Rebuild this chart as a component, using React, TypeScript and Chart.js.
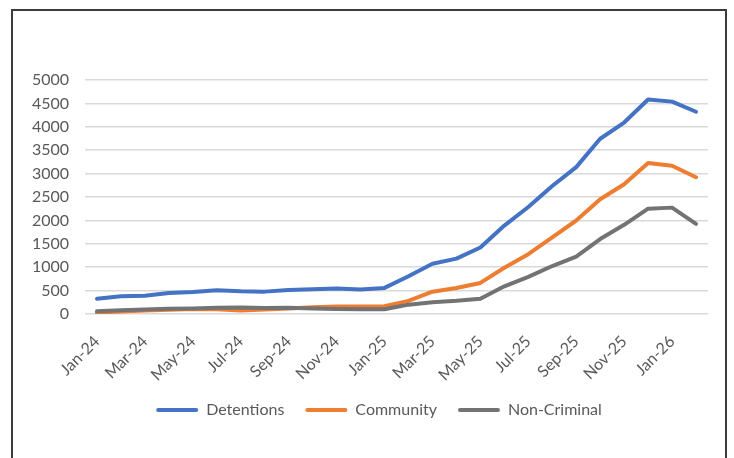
import React, { useEffect, useRef } from "react";
import { Chart, registerables } from "chart.js";

Chart.register(...registerables);

// Monthly categories, Jan-24 through Feb-26
const months: string[] = [
  "Jan-24", "Feb-24", "Mar-24", "Apr-24", "May-24", "Jun-24",
  "Jul-24", "Aug-24", "Sep-24", "Oct-24", "Nov-24", "Dec-24",
  "Jan-25", "Feb-25", "Mar-25", "Apr-25", "May-25", "Jun-25",
  "Jul-25", "Aug-25", "Sep-25", "Oct-25", "Nov-25", "Dec-25",
  "Jan-26", "Feb-26",
];

const detentions: number[] = [
  326, 377, 391, 450, 471, 507, 486, 478, 515, 529, 544, 522,
  558, 808, 1075, 1183, 1421, 1890, 2287, 2734, 3138, 3745, 4091, 4582,
  4538, 4322,
];

const community: number[] = [
  30, 55, 75, 90, 105, 100, 75, 95, 120, 145, 160, 160,
  165, 280, 476, 556, 664, 988, 1277, 1638, 1998, 2453, 2771, 3225,
  3167, 2922,
];

const nonCriminal: number[] = [
  58, 80, 95, 110, 120, 135, 140, 130, 135, 120, 105, 100,
  100, 200, 253, 281, 325, 592, 794, 1025, 1227, 1602, 1905, 2251,
  2273, 1926,
];

const yMax = 5000;
const yStep = 500;

const BLUE = "#4472C4";
const ORANGE = "#ED7D31";
const GREY = "#737373";
const TEXT = "#595959";
const FONT = "Lato, 'Open Sans', sans-serif";

// nudges the bottom legend a little to the right of the canvas centre
const legendShift = {
  id: "legendShift",
  afterLayout(chart: any) {
    const lg = chart.legend;
    if (lg) {
      lg.left += 15;
      lg.right += 15;
    }
  },
};

export default function App() {
  const canvasRef = useRef<HTMLCanvasElement | null>(null);

  useEffect(() => {
    const canvas = canvasRef.current;
    if (!canvas) return;

    // later series are painted over earlier ones
    const line = (label: string, data: number[], color: string, order: number) => ({
      label,
      data,
      borderColor: color,
      backgroundColor: color,
      borderWidth: 4,
      pointRadius: 0,
      tension: 0,
      borderCapStyle: "round" as const,
      borderJoinStyle: "round" as const,
      order,
    });

    const chart = new Chart(canvas, {
      type: "line",
      data: {
        labels: months,
        datasets: [
          line("Detentions", detentions, BLUE, 3),
          line("Community", community, ORANGE, 2),
          line("Non-Criminal", nonCriminal, GREY, 1),
        ],
      },
      plugins: [legendShift],
      options: {
        animation: false,
        responsive: false,
        maintainAspectRatio: false,
        layout: { padding: { left: 20, right: 26, top: 80, bottom: 30 } },
        font: { family: FONT, size: 16 },
        plugins: {
          tooltip: { enabled: false },
          legend: {
            position: "bottom",
            labels: {
              color: TEXT,
              font: { family: FONT, size: 16 },
              boxWidth: 42,
              boxHeight: 4,
              padding: 21,
              useBorderRadius: true,
              borderRadius: 2,
              sort: (a: any, b: any) => a.datasetIndex - b.datasetIndex,
              generateLabels: (c: any) =>
                Chart.defaults.plugins.legend.labels
                  .generateLabels(c)
                  .map((item: any) => ({ ...item, lineWidth: 0 })),
            },
          },
        },
        scales: {
          x: {
            type: "category",
            offset: true,
            grid: { display: false, drawTicks: false },
            border: { display: false },
            afterFit: (scale: any) => {
              scale.height = 67;
            },
            ticks: {
              color: TEXT,
              font: { family: FONT, size: 16 },
              autoSkip: false,
              maxRotation: 45,
              minRotation: 45,
              padding: 18,
              callback: (_v: any, i: number) => (i % 2 === 0 ? months[i] : ""),
            },
          },
          y: {
            min: 0,
            max: yMax,
            grid: { color: "#d9d9d9", lineWidth: 1.5, drawTicks: false },
            border: { display: false },
            afterFit: (scale: any) => {
              scale.width = 65;
            },
            ticks: {
              stepSize: yStep,
              color: TEXT,
              font: { family: FONT, size: 16 },
              padding: 16,
              callback: (v: any) => String(v),
            },
          },
        },
      },
    });

    return () => chart.destroy();
  }, []);

  return (
    <div
      style={{
        position: "fixed",
        left: 0,
        top: 0,
        width: 734,
        height: 458,
        background: "#fff",
        overflow: "hidden",
      }}
    >
      <div
        style={{
          position: "absolute",
          left: 11,
          top: 9,
          width: 716,
          height: 470,
          border: "2px solid #3c3c3c",
          boxSizing: "border-box",
        }}
      />
      <canvas
        ref={canvasRef}
        width={734}
        height={458}
        style={{ position: "absolute", left: 0, top: 0 }}
      />
    </div>
  );
}
